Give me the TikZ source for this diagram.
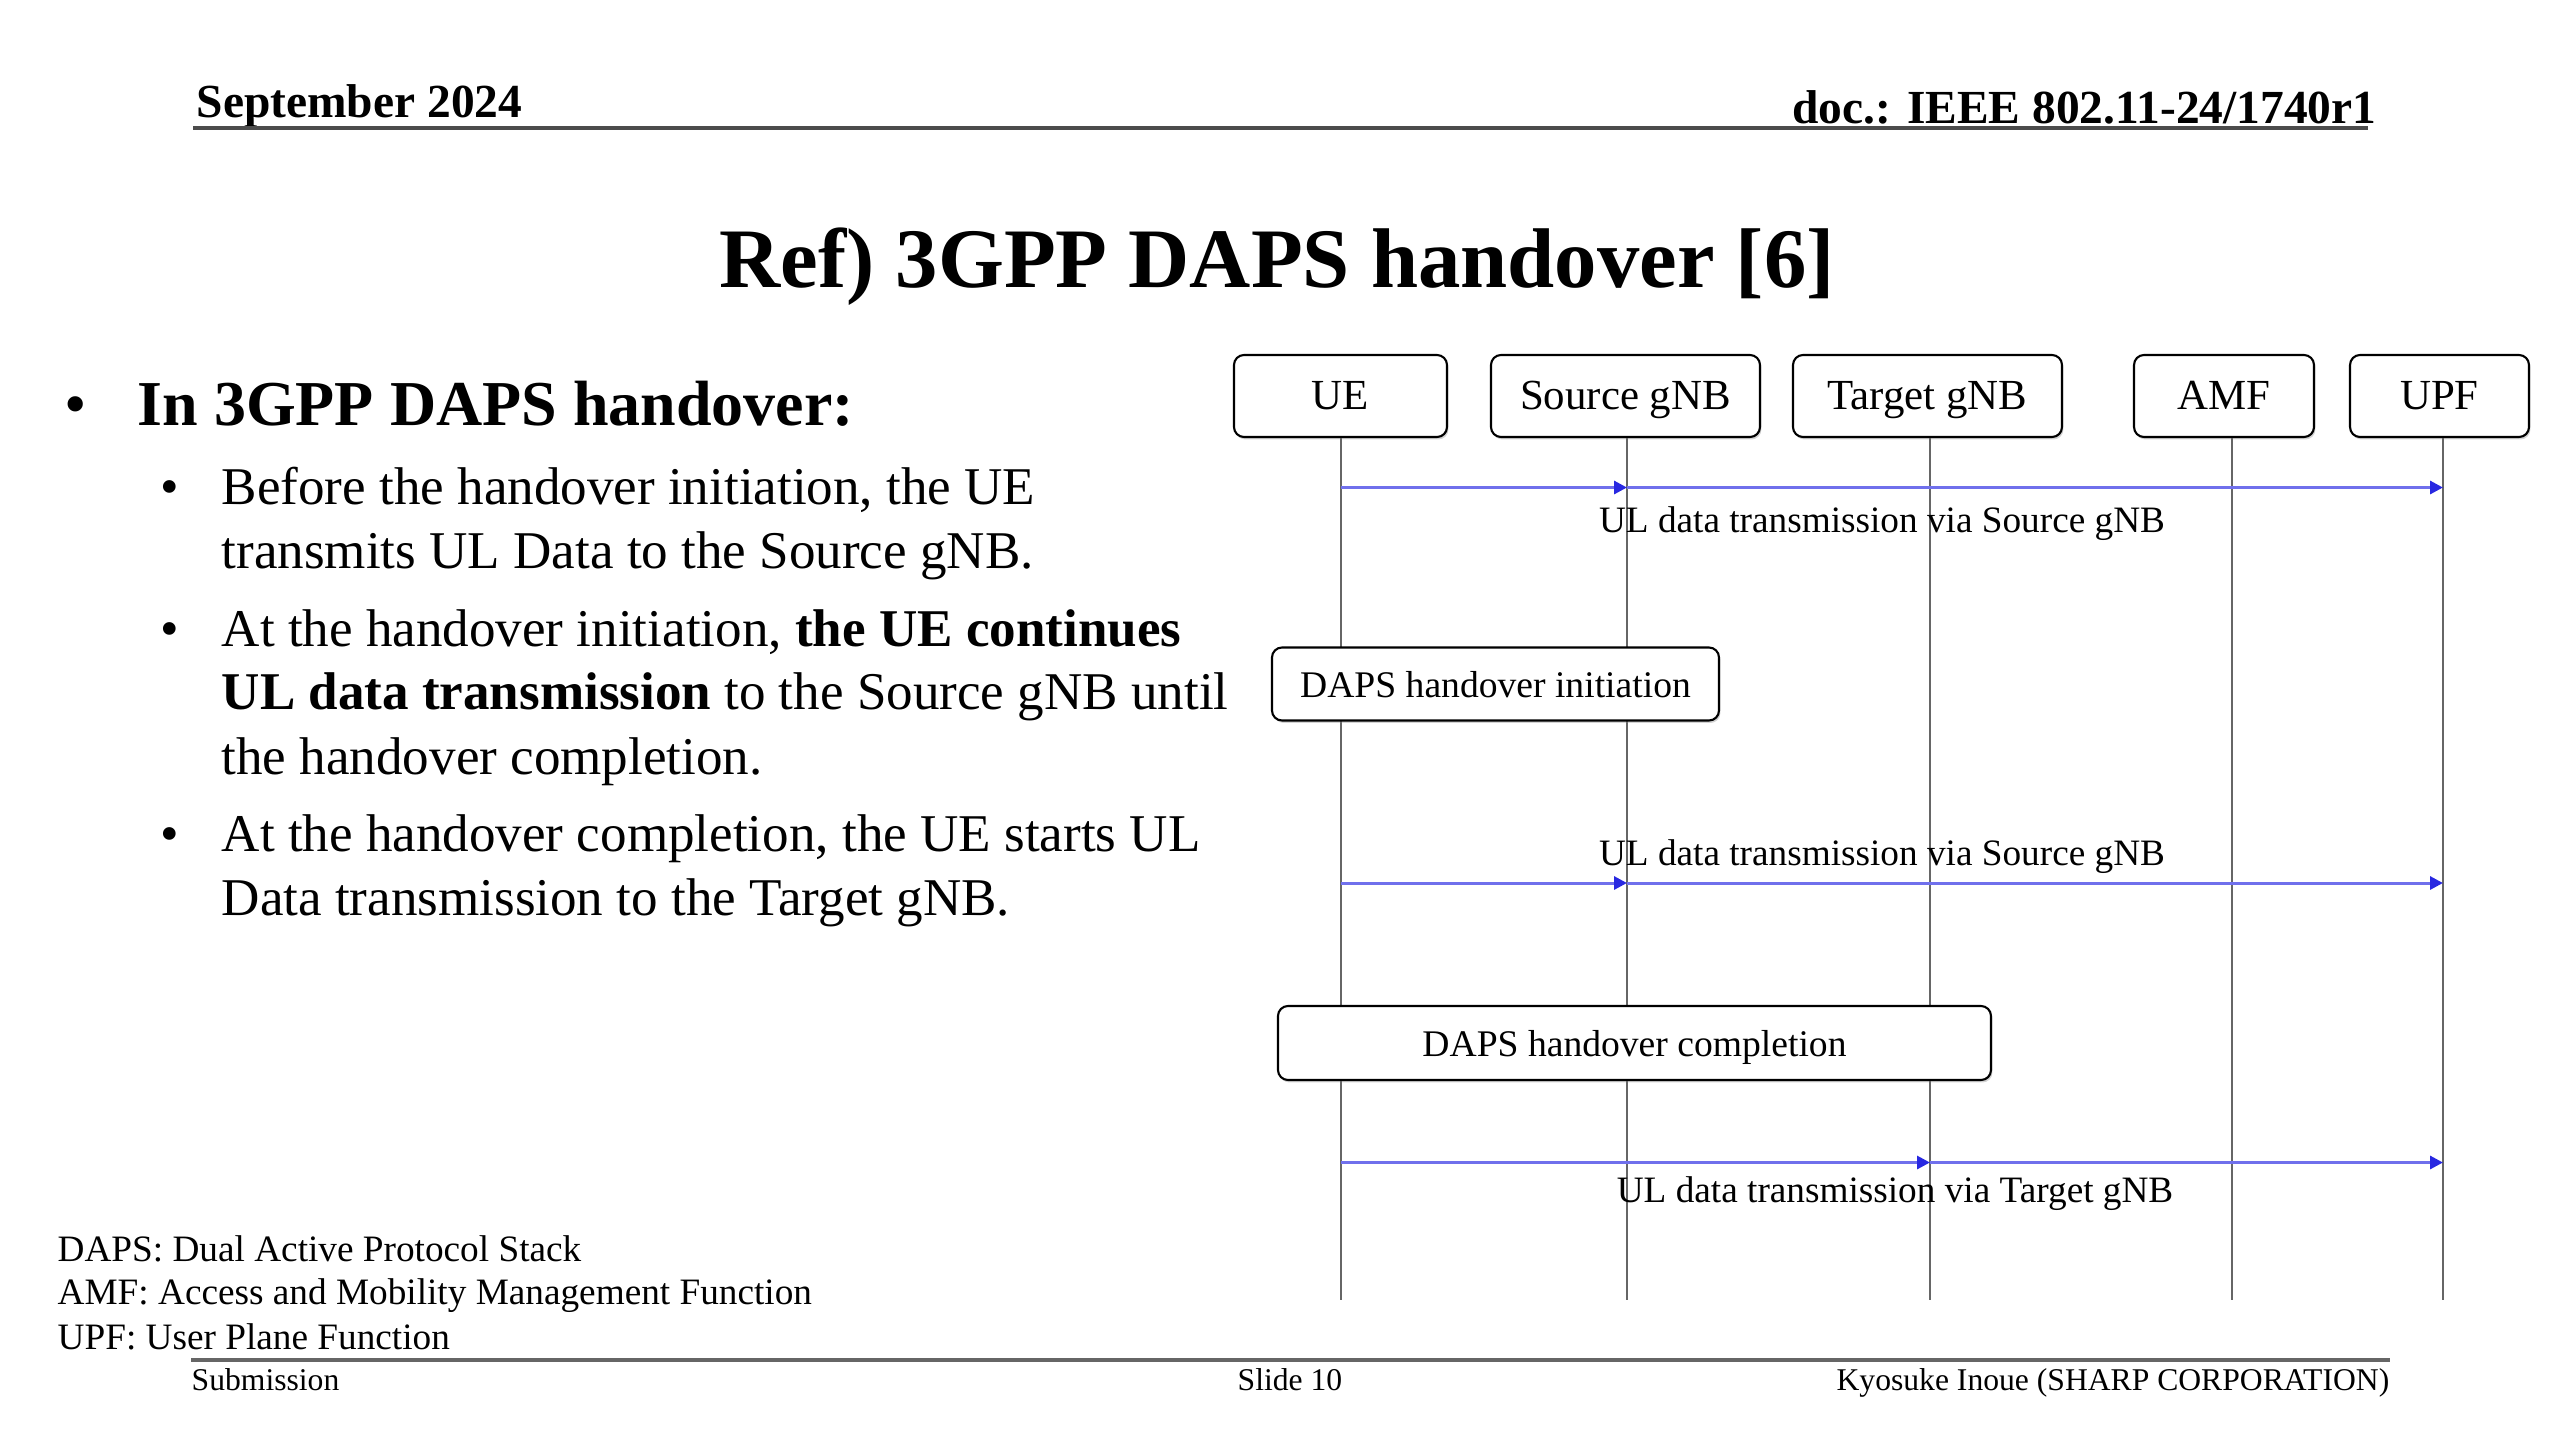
\documentclass[tikz,border=0pt]{standalone}
\usepackage{fontspec}
\setmainfont{Liberation Serif}
\usetikzlibrary{arrows.meta,shadows}
\definecolor{msgline}{RGB}{112,112,236}
\definecolor{tipblue}{RGB}{40,40,225}
\tikzset{
	actor/.style={draw, fill=white, rounded corners=1mm, line width=0.6pt, inner sep=0pt,
		minimum height=0.82cm, text height=2ex, text depth=0.35ex,
		font=\fontsize{12.2}{14}\selectfont,
		drop shadow={shadow xshift=0.4pt, shadow yshift=-0.7pt, opacity=0.35}},
	phase/.style={actor, minimum height=0.73cm, font=\fontsize{10.7}{13}\selectfont},
	lifeline/.style={draw=black!60, line width=0.6pt},
	msg/.style={draw=msgline, line width=0.85pt, -{Triangle[length=1.3mm, width=1.3mm, color=tipblue]}},
	msglabel/.style={inner sep=0pt, anchor=base, font=\fontsize{10.6}{12}\selectfont},
	bodytext/.style={inner sep=0pt, anchor=base west, font=\fontsize{15.1}{18}\selectfont},
	note/.style={inner sep=0pt, anchor=base west, font=\fontsize{10.6}{12.5}\selectfont},
	foot/.style={inner sep=0pt, anchor=base, font=\fontsize{9}{11}\selectfont}
}
\begin{document}
\begin{tikzpicture}
		\useasboundingbox (0, 0) rectangle (25.6, -14.4);
		\node[inner sep=0pt, anchor=base west, font=\fontsize{13.5}{16}\selectfont\bfseries] (date) at (1.96, -1.17) {September 2024};
		\node[inner sep=0pt, anchor=base east, font=\fontsize{13.5}{16}\selectfont\bfseries] (doc) at (23.77, -1.23) {doc.: IEEE 802.11-24/1740r1};
		\draw[black!70, line width=0.9pt] (1.93, -1.28) -- (23.68, -1.28);
		\node[inner sep=0pt, anchor=base, font=\fontsize{24.1}{29}\selectfont\bfseries] (title) at (12.77, -2.87) {Ref) 3GPP DAPS handover [6]};

		\node[inner sep=0pt, anchor=base, font=\fontsize{18.2}{22}\selectfont] (b0) at (0.76, -4.25) {\textbullet};
		\node[inner sep=0pt, anchor=base west, font=\fontsize{18.2}{22}\selectfont\bfseries] (head) at (1.37, -4.25) {In 3GPP DAPS handover:};
		\node[bodytext, anchor=base] (b1) at (1.70, -5.04) {\textbullet};
		\node[bodytext] (l1) at (2.21, -5.04) {Before the handover initiation, the UE};
		\node[bodytext] (l2) at (2.21, -5.68) {transmits UL Data to the Source gNB.};
		\node[bodytext, anchor=base] (b2) at (1.70, -6.46) {\textbullet};
		\node[bodytext] (l3) at (2.21, -6.46) {At the handover initiation, \textbf{the UE continues}};
		\node[bodytext] (l4) at (2.21, -7.09) {\textbf{UL data transmission} to the Source gNB until};
		\node[bodytext] (l5) at (2.21, -7.74) {the handover completion.};
		\node[bodytext, anchor=base] (b3) at (1.70, -8.51) {\textbullet};
		\node[bodytext] (l6) at (2.21, -8.51) {At the handover completion, the UE starts UL};
		\node[bodytext] (l7) at (2.21, -9.15) {Data transmission to the Target gNB.};

		\node[actor, minimum width=2.13cm] (ue) at (13.405, -3.96) {UE};
		\node[actor, minimum width=2.69cm] (src) at (16.255, -3.96) {Source gNB};
		\node[actor, minimum width=2.69cm] (tgt) at (19.275, -3.96) {Target gNB};
		\node[actor, minimum width=1.80cm] (amf) at (22.24, -3.96) {AMF};
		\node[actor, minimum width=1.79cm] (upf) at (24.395, -3.96) {UPF};
		\coordinate (end) at (0, -13.0);
		\foreach \n/\dx in {ue/0.005, src/0.015, tgt/0.025, amf/0.08, upf/0.035} {
			\coordinate (l\n) at ([xshift=\dx cm]\n.south);
			\draw[lifeline] (l\n) -- (l\n |- end);
		}

		\coordinate (m1) at (0, -4.875);
		\coordinate (m2) at (0, -8.83);
		\coordinate (m3) at (0, -11.625);
		\draw[msg] (lue |- m1) -- (lsrc |- m1);
		\draw[msg] (lsrc |- m1) -- (lupf |- m1);
		\node[msglabel] (t1) at (18.82, -5.32) {UL data transmission via Source gNB};

		\node[phase, minimum width=4.47cm] (init) at (14.955, -6.84) {DAPS handover initiation};

		\draw[msg] (lue |- m2) -- (lsrc |- m2);
		\draw[msg] (lsrc |- m2) -- (lupf |- m2);
		\node[msglabel] (t2) at (18.82, -8.65) {UL data transmission via Source gNB};

		\node[phase, minimum width=7.13cm, minimum height=0.74cm] (done) at (16.345, -10.43) {DAPS handover completion};

		\draw[msg] (lue |- m3) -- (ltgt |- m3);
		\draw[msg] (ltgt |- m3) -- (lupf |- m3);
		\node[msglabel] (t3) at (18.95, -12.02) {UL data transmission via Target gNB};

		\node[note] (n1) at (0.57, -12.61) {DAPS: Dual Active Protocol Stack};
		\node[note] (n2) at (0.57, -13.04) {AMF: Access and Mobility Management Function};
		\node[note] (n3) at (0.57, -13.49) {UPF: User Plane Function};
		\draw[black!60, line width=1pt] (1.91, -13.60) -- (23.90, -13.60);
		\node[foot, anchor=base west] (sub) at (1.91, -13.90) {Submission};
		\node[foot] (slide) at (12.90, -13.90) {Slide 10};
		\node[foot, anchor=base east] (auth) at (23.90, -13.90) {Kyosuke Inoue (SHARP CORPORATION)};
	\end{tikzpicture}
\end{document}
